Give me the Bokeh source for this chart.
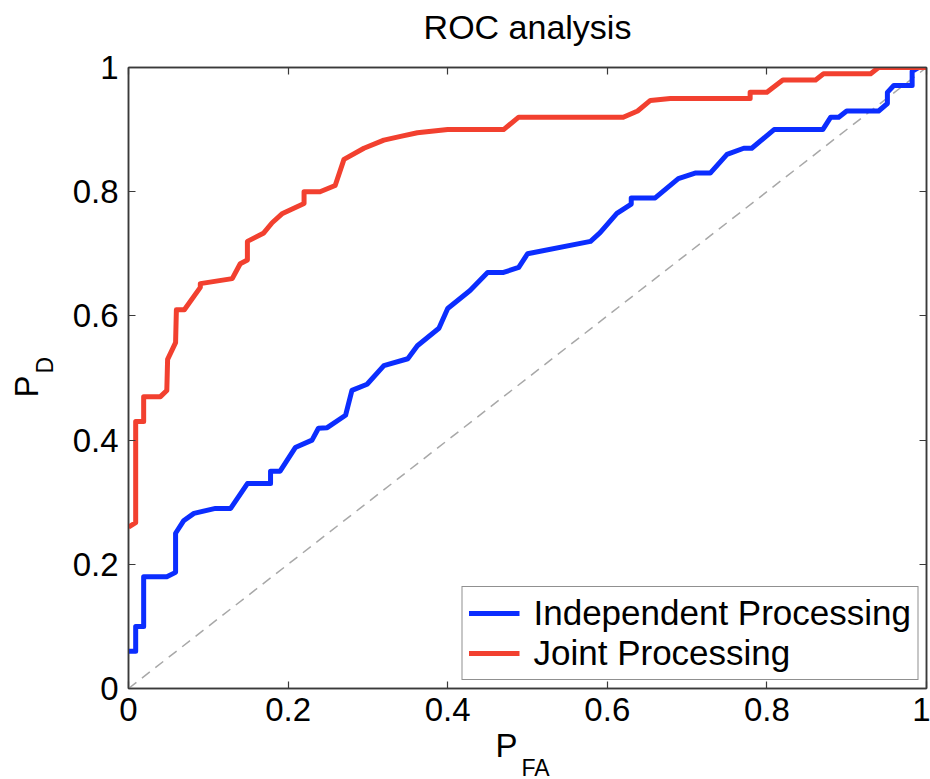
from bokeh.plotting import figure
from bokeh.models import Range1d, LinearAxis, FixedTicker, Legend, LegendItem, Title
from bokeh.embed import file_html
from bokeh.resources import INLINE

# ---------------- data ----------------
joint_pfa = [0, 0.009, 0.009, 0.019, 0.019, 0.04, 0.048, 0.049, 0.059, 0.06, 0.07,
             0.09, 0.09, 0.13, 0.14, 0.149, 0.149, 0.169, 0.18, 0.193, 0.22,
             0.22, 0.24, 0.259, 0.27, 0.295, 0.32, 0.341, 0.362, 0.40, 0.47,
             0.489, 0.62, 0.638, 0.654, 0.679, 0.779, 0.779, 0.80, 0.82, 0.861,
             0.871, 0.93, 0.94, 1.0]
joint_pd = [0.26, 0.267, 0.43, 0.43, 0.47, 0.47, 0.48, 0.53, 0.557, 0.61, 0.61,
            0.646, 0.652, 0.66, 0.684, 0.69, 0.72, 0.733, 0.75, 0.765, 0.781,
            0.80, 0.80, 0.81, 0.852, 0.87, 0.883, 0.889, 0.895, 0.90, 0.90,
            0.92, 0.92, 0.93, 0.947, 0.95, 0.95, 0.96, 0.96, 0.98, 0.98,
            0.99, 0.99, 1.0, 1.0]

indep_pfa = [0, 0.009, 0.009, 0.019, 0.019, 0.048, 0.059, 0.059, 0.069, 0.082,
             0.109, 0.128, 0.149, 0.178, 0.178, 0.19, 0.209, 0.23, 0.238, 0.249,
             0.272, 0.28, 0.299, 0.32, 0.35, 0.362, 0.389, 0.40, 0.428, 0.45,
             0.47, 0.489, 0.50, 0.579, 0.591, 0.612, 0.63, 0.63, 0.66, 0.689,
             0.71, 0.729, 0.75, 0.771, 0.781, 0.809, 0.87, 0.88, 0.89, 0.90,
             0.94, 0.951, 0.951, 0.959, 0.982, 0.982, 0.99, 1.0]
indep_pd = [0.06, 0.06, 0.10, 0.10, 0.18, 0.18, 0.187, 0.25, 0.27, 0.282,
            0.29, 0.29, 0.33, 0.33, 0.35, 0.35, 0.388, 0.40, 0.419, 0.42,
            0.44, 0.48, 0.49, 0.52, 0.531, 0.552, 0.58, 0.612, 0.641, 0.67,
            0.67, 0.678, 0.70, 0.72, 0.734, 0.765, 0.78, 0.79, 0.79, 0.821,
            0.83, 0.83, 0.86, 0.87, 0.87, 0.90, 0.90, 0.92, 0.92, 0.93,
            0.93, 0.942, 0.96, 0.971, 0.971, 0.994, 1.0, 1.0]

chance_x = [0, 1]
chance_y = [0, 1]

ticks = [0, 0.2, 0.4, 0.6, 0.8, 1]
tick_labels = ["0", "0.2", "0.4", "0.6", "0.8", "1"]

series_names = ["Independent Processing", "Joint Processing"]
title_text = "ROC analysis"
xlabel_main, xlabel_sub = "P", "FA"
ylabel_main, ylabel_sub = "P", "D"

# ---------------- styling ----------------
FONT = "Liberation Sans"
AX = "#3a3a3a"
BLUE = "#0b2dff"
RED = "#f2402f"
NBSP = "\u00a0"

p = figure(width=930, height=779, output_backend="svg", toolbar_location=None,
           x_range=Range1d(0, 1), y_range=Range1d(0, 1),
           x_axis_location=None, y_axis_location=None,
           min_border_left=128, min_border_right=4, min_border_top=67,
           min_border_bottom=91, title=None)

p.xgrid.visible = False
p.ygrid.visible = False
p.outline_line_color = AX
p.outline_line_width = 1.5
p.background_fill_color = "white"
p.border_fill_color = "white"

bottom_axis = LinearAxis()
left_axis = LinearAxis()
top_axis = LinearAxis()
right_axis = LinearAxis()
p.add_layout(bottom_axis, "below")
p.add_layout(left_axis, "left")
p.add_layout(top_axis, "above")
p.add_layout(right_axis, "right")

overrides = {t: l for t, l in zip(ticks, tick_labels)}
blank = {t: "" for t in ticks}

for ax in [bottom_axis, left_axis, top_axis, right_axis]:
    ax.ticker = FixedTicker(ticks=ticks)
    ax.major_tick_in = 7
    ax.major_tick_out = 0
    ax.minor_tick_in = 0
    ax.minor_tick_out = 0
    ax.axis_line_color = AX
    ax.axis_line_width = 1.5
    ax.major_tick_line_color = AX
    ax.major_tick_line_width = 1.2
    ax.major_label_text_font = FONT
    ax.major_label_text_color = "black"

for ax in [bottom_axis, left_axis]:
    ax.major_label_overrides = overrides
    ax.major_label_text_font_size = "33px"
bottom_axis.major_label_standoff = 9
left_axis.major_label_standoff = 10

for ax in [top_axis, right_axis]:
    ax.major_label_overrides = blank
    ax.major_label_text_font_size = "1px"
    ax.major_label_standoff = 0

# chart title, carried by the top (box) axis so that it sits centred over the frame
top_axis.axis_label = title_text
top_axis.axis_label_text_font = FONT
top_axis.axis_label_text_font_size = "34px"
top_axis.axis_label_text_font_style = "normal"
top_axis.axis_label_text_color = "black"
top_axis.axis_label_standoff = 22

# subscript "D" of the y label, placed as the axis label of the left axis
left_axis.axis_label = NBSP * 4 + ylabel_sub
left_axis.axis_label_text_font = FONT
left_axis.axis_label_text_font_size = "23px"
left_axis.axis_label_text_font_style = "normal"
left_axis.axis_label_text_color = "black"
left_axis.axis_label_standoff = 12

p.line(chance_x, chance_y, line_color="#a8a8a8", line_width=1.5, line_dash="10 7")
rb = p.line(indep_pfa, indep_pd, line_color=BLUE, line_width=5, line_join="round")
rr = p.line(joint_pfa, joint_pd, line_color=RED, line_width=5, line_join="round")

legend = Legend(items=[LegendItem(label=series_names[0], renderers=[rb]),
                       LegendItem(label=series_names[1], renderers=[rr])],
                location="bottom_right", glyph_width=51, glyph_height=36,
                label_height=36, label_standoff=14, padding=6, spacing=0, margin=8,
                label_text_font=FONT, label_text_font_size="35px",
                label_text_color="black",
                border_line_color="#222222", border_line_width=1.2,
                background_fill_color="white", background_fill_alpha=1.0)
p.add_layout(legend)

# axis labels with subscripts (stacked titles in the side panels)
p.add_layout(Title(text=xlabel_main, align="left", offset=367, standoff=2,
                   text_font=FONT, text_font_size="33px", text_font_style="normal",
                   text_color="black"), "below")
p.add_layout(Title(text=xlabel_sub, align="left", offset=393, standoff=-24,
                   text_font=FONT, text_font_size="23px", text_font_style="normal",
                   text_color="black"), "below")
p.add_layout(Title(text=ylabel_main, align="left", offset=291, standoff=-33,
                   text_font=FONT, text_font_size="33px", text_font_style="normal",
                   text_color="black"), "left")

open("out.html", "w").write(file_html(p, INLINE))
